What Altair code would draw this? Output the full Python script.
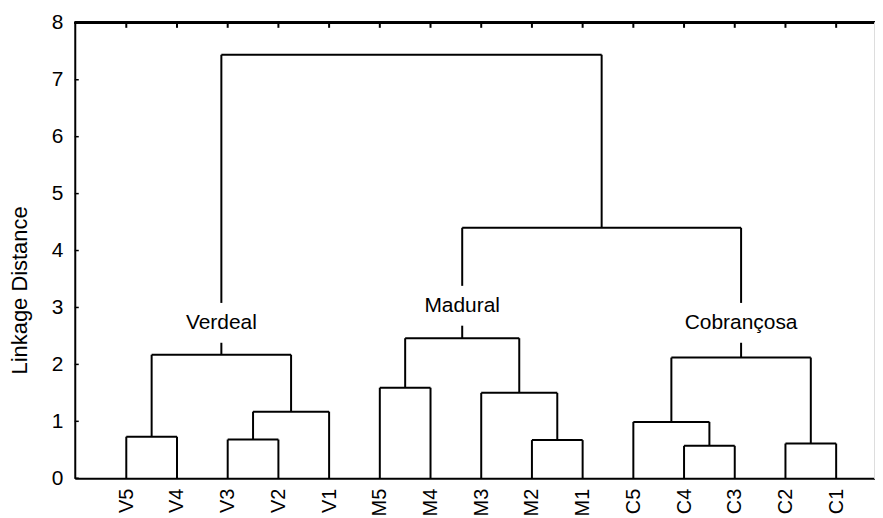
import altair as alt
import pandas as pd

# ---- data ----
leaves = ["V5", "V4", "V3", "V2", "V1", "M5", "M4", "M3", "M2", "M1",
          "C5", "C4", "C3", "C2", "C1"]
# merges: node n<i> joins merge_left[i] and merge_right[i] at merge_height[i]
merge_left = ["V5", "V3", "n1", "n0", "M5", "M2", "M3", "n4", "C4", "C5", "C2", "n9", "n7", "n3"]
merge_right = ["V4", "V2", "V1", "n2", "M4", "M1", "n5", "n6", "C3", "n8", "C1", "n10", "n11", "n12"]
merge_height = [0.73, 0.68, 1.17, 2.17, 1.59, 0.67, 1.50, 2.46, 0.57, 0.99, 0.61, 2.12, 4.40, 7.44]

group_names = ["Verdeal", "Madural", "Cobrançosa"]
group_nodes = ["n3", "n7", "n11"]
group_label_y = [2.73, 3.03, 2.73]

y_ticks = [0, 1, 2, 3, 4, 5, 6, 7, 8]

# ---- dendrogram layout ----
pos = {name: float(i) for i, name in enumerate(leaves)}
hgt = {name: 0.0 for name in leaves}
segs = []
for i, (a, b, h) in enumerate(zip(merge_left, merge_right, merge_height)):
    xa, xb = pos[a], pos[b]
    segs.append(dict(x=xa, y=hgt[a], x2=xa, y2=h))
    segs.append(dict(x=xb, y=hgt[b], x2=xb, y2=h))
    segs.append(dict(x=xa, y=h, x2=xb, y2=h))
    node = f"n{i}"
    pos[node] = (xa + xb) / 2
    hgt[node] = h
seg_df = pd.DataFrame(segs)

lab_df = pd.DataFrame({
    "name": group_names,
    "x": [pos[n] for n in group_nodes],
    "y": group_label_y,
})
lab_df["xl"] = lab_df["x"] - 0.2
lab_df["xr"] = lab_df["x"] + 0.2
lab_df["yb"] = lab_df["y"] - 0.35
lab_df["yt"] = lab_df["y"] + 0.35

leaf_df = pd.DataFrame({"x": list(range(len(leaves))), "leaf": leaves})
ytick_df = pd.DataFrame({"y": y_ticks})

FONT = "Liberation Sans"
W, H = 803, 457

xscale = alt.Scale(domain=[-1.016, 14.766], nice=False, zero=False)
yscale = alt.Scale(domain=[0, 8], nice=False)

label_expr = "[" + ",".join(f"'{l}'" for l in leaves) + "][datum.value]"

links = alt.Chart(seg_df).mark_rule(color="black", strokeWidth=2).encode(
    x=alt.X("x:Q", scale=xscale,
            axis=alt.Axis(values=list(range(len(leaves))), labelExpr=label_expr,
                          labelAngle=270, ticks=False, grid=False, title=None,
                          domainColor="black", domainWidth=2, labelFont=FONT,
                          labelFontSize=20, labelColor="black", labelPadding=10)),
    x2="x2:Q",
    y=alt.Y("y:Q", scale=yscale,
            axis=alt.Axis(values=y_ticks, format="d", ticks=False, grid=False,
                          title="Linkage Distance", titleFont=FONT, titleFontSize=22,
                          titleFontWeight="normal", titleColor="black", titlePadding=20,
                          titleY=268,
                          domainColor="black", domainWidth=2, labelFont=FONT,
                          labelFontSize=21, labelColor="black", labelPadding=12)),
    y2="y2:Q",
)

masks = alt.Chart(lab_df).mark_rect(color="white").encode(
    x="xl:Q", x2="xr:Q", y="yb:Q", y2="yt:Q")

labels = alt.Chart(lab_df).mark_text(font=FONT, fontSize=21, color="black",
                                     align="center", baseline="middle").encode(
    x="x:Q", y="y:Q", text="name:N")

top_border = alt.Chart(leaf_df).mark_rule(color="black", strokeWidth=2).encode(
    x=alt.value(0), x2=alt.value(W), y=alt.value(0))

right_border = alt.Chart(leaf_df).mark_rule(color="#dddddd", strokeWidth=1).encode(
    x=alt.value(W), y=alt.value(0), y2=alt.value(H))

top_ticks = alt.Chart(leaf_df).mark_rule(color="black", strokeWidth=2).encode(
    x="x:Q", y=alt.value(0), y2=alt.value(5))

left_ticks = alt.Chart(ytick_df).mark_rule(color="black", strokeWidth=1.5).encode(
    y="y:Q", x=alt.value(0), x2=alt.value(4))

chart = alt.layer(links, masks, labels, top_border, right_border, top_ticks, left_ticks).properties(
    width=W, height=H,
    autosize=alt.AutoSizeParams(type="none"),
    padding={"left": 67, "top": 14, "right": 0, "bottom": 38},
).configure_view(stroke=None).configure(background="white")

chart.save("out.html", embed_options={"renderer": "svg", "actions": False})
